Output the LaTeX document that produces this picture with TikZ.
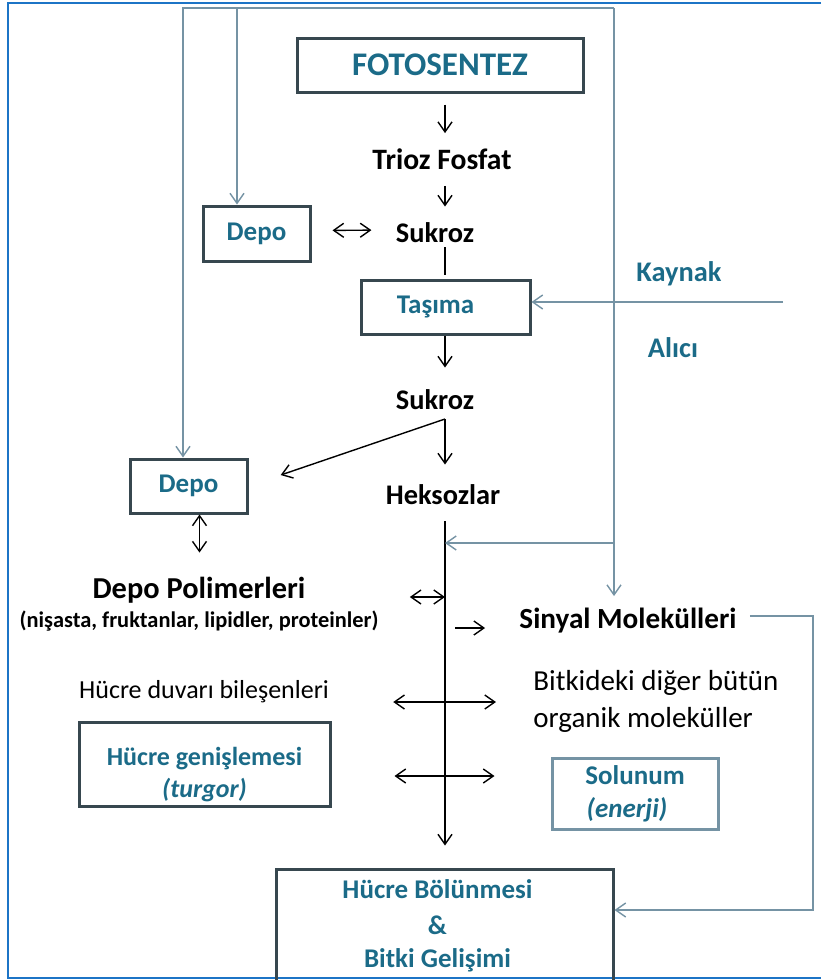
\documentclass[tikz,border=0pt]{standalone}
\usepackage{fontspec}
\setmainfont{Carlito}
\usetikzlibrary{arrows.meta, calc, positioning}
\tikzset{>={Straight Barb[length=5pt,width=7pt]}}
\definecolor{tealtxt}{HTML}{1B6B88}
\definecolor{boxline}{HTML}{37474F}
\definecolor{loopline}{HTML}{7593A4}
\definecolor{framebl}{HTML}{1C74C6}
\newcommand{\fs}[1]{\fontsize{#1}{#1}\selectfont}

\begin{document}
\begin{tikzpicture}[x=0.5pt,y=-0.5pt,
    lbl/.style={inner sep=0pt,font=\fs{14.2}\bfseries},
    box/.style={draw=boxline,line width=1.5pt,inner sep=0pt,text=tealtxt,font=\fs{13.5}\bfseries,align=center},
    arr/.style={->,line width=0.7pt},
    darr/.style={<->,line width=0.7pt},
    garr/.style={->,draw=loopline,line width=0.7pt}]
    \useasboundingbox (0,0) rectangle (821,980);
    \draw[framebl,line width=1.3pt] (821,3) -- (8,3) -- (8,978) -- (821,978);
    % main chain
    \node[box,minimum width=143pt,minimum height=27pt,font=\fs{16.5}\bfseries] (foto) at (440,65) {FOTOSENTEZ};
    \node[lbl,font=\fs{14.8}\bfseries] (trioz) at (442,159) {Trioz Fosfat};
    \node[lbl] (suk1) at (435,233) {Sukroz};
    \node[box,minimum width=53.5pt,minimum height=27.5pt] (depo1) at (256.5,233.5) {Depo};
    \node[box,minimum width=84.5pt,minimum height=27pt] (tasima) at (445.5,307) {Taşıma\hspace*{10pt}};
    \node[lbl,text=tealtxt] (kaynak) at (679,274) {Kaynak};
    \node[lbl,text=tealtxt] (alici) at (673,348) {Alıcı};
    \node[lbl] (suk2) at (435,400) {Sukroz};
    \node[box,minimum width=58.5pt,minimum height=27pt] (depo2) at (188.5,486) {Depo};
    \node[lbl] (heks) at (443,495) {Heksozlar};
    \node[lbl,font=\fs{15.2}\bfseries] (depopol) at (199,590) {Depo Polimerleri};
    \node[lbl,font=\fs{11.2}\bfseries] (icerik) at (199,621) {(nişasta, fruktanlar, lipidler, proteinler)};
    \node[lbl,font=\fs{14.6}\bfseries] (sinyal) at (628,621) {Sinyal Molekülleri};
    \node[lbl,font=\fs{13}] (duvar) at (204,692) {Hücre duvarı bileşenleri};
    \node[lbl,font=\fs{14.5},align=left,anchor=west] (bitki) at (533,701) {Bitkideki diğer bütün\\[4pt]organik moleküller};
    \node[box,font=\fs{13}\bfseries,minimum width=125.5pt,minimum height=42pt] (genis) at (204.5,764) {\rule{0pt}{20pt}Hücre genişlemesi\\[3pt]\itshape(turgor)};
    \node[box,draw=loopline,minimum width=83pt,minimum height=35.5pt] (solunum) at (635,793.5) {Solunum\\[3pt]\itshape(enerji)\hspace*{8pt}};
    \node[box,minimum width=168.5pt,minimum height=58pt] (bolunme) at (444.5,927) {Hücre Bölünmesi\hspace*{7pt}\\[4.5pt]\hspace*{-7pt}\&\\[3pt]Bitki Gelişimi\hspace*{7pt}\rule[-3pt]{0pt}{0pt}};

    \coordinate (ax) at (445,0);
    \coordinate (split) at (445,419);
    \draw[arr,shorten <=5.5pt,shorten >=7.5pt] (foto.south -| ax) -- (trioz.north -| ax);
    \draw[arr,shorten <=8pt,shorten >=8pt] (trioz.south -| ax) -- (suk1.north -| ax);
    \draw[darr,shorten <=10.5pt,shorten >=12pt] ([yshift=1.5pt]depo1.east) -- ([yshift=1.5pt]suk1.west);
    \draw[line width=0.7pt,shorten <=2pt,shorten >=2pt] (suk1.south -| ax) -- (tasima.north -| ax);
    \draw[arr,shorten >=11pt] (tasima.south -| ax) -- (suk2.north -| ax);
    \draw[arr,shorten >=10pt] (split) -- (heks.north -| ax);
    \draw[arr,shorten >=17pt] (split) -- (depo2.east);
    \draw[darr,shorten >=12pt] ([xshift=5.5pt]depo2.south) -- ([xshift=5.5pt]depo2.south |- depopol.north);
    \draw[arr,shorten <=8pt,shorten >=11pt] (heks.south -| ax) -- (bolunme.north -| ax);
    % side arrows
    \draw[darr,shorten <=52pt] ([yshift=-3.5pt]depopol.east) -- ([yshift=-3.5pt]depopol.east -| ax);
    \draw[arr,shorten <=5pt,shorten >=17pt] ([yshift=-3.5pt]sinyal.west -| ax) -- ([yshift=-3.5pt]sinyal.west);
    \draw[darr,shorten <=32pt,shorten >=18.5pt] ([yshift=-5pt]duvar.east) -- ([yshift=-5pt]duvar.east -| bitki.west);
    \draw[darr,shorten <=31.5pt,shorten >=28pt] ([yshift=-6pt]genis.east) -- ([yshift=-6pt]genis.east -| solunum.west);
    % loop lines
    \coordinate (tl) at (183,8);
    \coordinate (tm) at (237,8);
    \coordinate (tr) at (614,8);
    \coordinate (br) at (614,543);
    \coordinate (kay) at (783,302);
    \coordinate (fb1) at (813,616);
    \coordinate (fb2) at (813,910);
    \draw[garr] (tr) -- (tl) -- (tl |- depo2.north);
    \draw[garr] (tm) -- (tm |- depo1.north);
    \draw[garr,shorten >=6pt] (tr) -- (tr |- sinyal.north);
    \draw[garr] (br) -- (br -| ax);
    \draw[garr] (kay) -- (kay -| tasima.east);
    \draw[garr,shorten <=6.5pt] (sinyal.east |- fb1) -- (fb1) -- (fb2) -- (fb2 -| bolunme.east);
\end{tikzpicture}
\end{document}
